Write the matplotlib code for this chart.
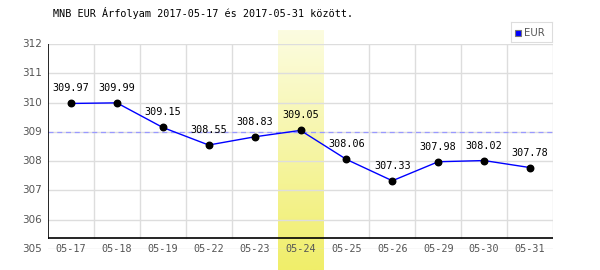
import numpy as np
import matplotlib.pyplot as plt
from matplotlib.patches import Rectangle

dates = ["05-17", "05-18", "05-19", "05-22", "05-23", "05-24",
         "05-25", "05-26", "05-29", "05-30", "05-31"]
rates = [309.97, 309.99, 309.15, 308.55, 308.83, 309.05,
         308.06, 307.33, 307.98, 308.02, 307.78]
y_ticks = [305, 306, 307, 308, 309, 310, 311, 312]
avg_line = 309.0
highlight = "05-24"

mono = "DejaVu Sans Mono"
grid_c = "#dddddd"

fig = plt.figure(figsize=(6, 2.7), dpi=100)
ax = fig.add_axes([48/600, 21/270, 505/600, 205/270])
ax.set_xlim(-0.5, len(dates) - 0.5)
ax.set_ylim(305, 312)
ax.axis("off")

px = 7 / 205  # data units per pixel on y
axis_y = 305 + 11 * px
x = np.arange(len(dates))

# highlighted day band with gradient
hi = dates.index(highlight)
grad = np.linspace(0, 1, 100).reshape(-1, 1)
from matplotlib.colors import LinearSegmentedColormap
cmap = LinearSegmentedColormap.from_list("yel", ["#fcfce0", "#f0ee6a"])
ax.imshow(grad, cmap=cmap, aspect="auto", origin="upper",
          extent=[hi - 0.5, hi + 0.5, 305 - 21 * px, 312 + 14 * px],
          clip_on=False, zorder=0)

# grid
for yv in y_ticks[1:]:
    ax.plot([-0.5, len(dates) - 0.5], [yv, yv], color=grid_c, lw=1, zorder=1)
ax.plot([-0.5, len(dates) - 0.5], [305, 305], color=grid_c, lw=1, zorder=1)
for xv in x[:-1] + 0.5:
    if xv in (hi - 0.5, hi + 0.5):
        continue
    ax.plot([xv, xv], [axis_y, 312], color=grid_c, lw=1, zorder=1)
ax.plot([len(dates) - 0.5] * 2, [axis_y, 312], color=grid_c, lw=1, zorder=1)

# axes lines
ax.plot([-0.5, -0.5], [axis_y, 312], color="black", lw=1.2, zorder=3)
ax.plot([-0.5, len(dates) - 0.5], [axis_y, axis_y], color="black", lw=1.2, zorder=3)

# average dashed line
ax.plot([-0.5, len(dates) - 0.5], [avg_line, avg_line], color="#9999ff",
        lw=0.9, ls=(0, (4, 3)), zorder=2)

# series
ax.plot(x, rates, color="blue", lw=1, zorder=4)
ax.scatter(x, rates, s=22, color="black", zorder=5)
for xi, r in zip(x, rates):
    ax.text(xi, r + 10 * px, f"{r:.2f}", ha="center", va="bottom",
            fontsize=7.3, family=mono, color="black", zorder=6)

# tick labels
for yv in y_ticks:
    ax.text(-0.5 - 6 / 46, yv, str(yv), ha="right", va="center",
            fontsize=7.5, color="#555555", clip_on=False)
for xi, d in zip(x, dates):
    ax.text(xi, 305, d, ha="center", va="center", fontsize=7.3,
            family=mono, color="#555555", clip_on=False)

fig.text(53/600, 1 - 13/270, "MNB EUR Árfolyam 2017-05-17 és 2017-05-31 között.",
         ha="left", va="center", fontsize=7.3, family=mono, color="black")

# legend
lg = fig.add_axes([511/600, 1 - 42/270, 41/600, 20/270])
lg.set_xlim(0, 41)
lg.set_ylim(0, 20)
lg.set_xticks([])
lg.set_yticks([])
for s in lg.spines.values():
    s.set_color("#dddddd")
lg.add_patch(Rectangle((4, 6.5), 6, 6, facecolor="blue", edgecolor="#777777", lw=0.8))
lg.text(13, 9.5, "EUR", ha="left", va="center", fontsize=7.3, color="#555555")

fig.savefig("out.png", dpi=100)
